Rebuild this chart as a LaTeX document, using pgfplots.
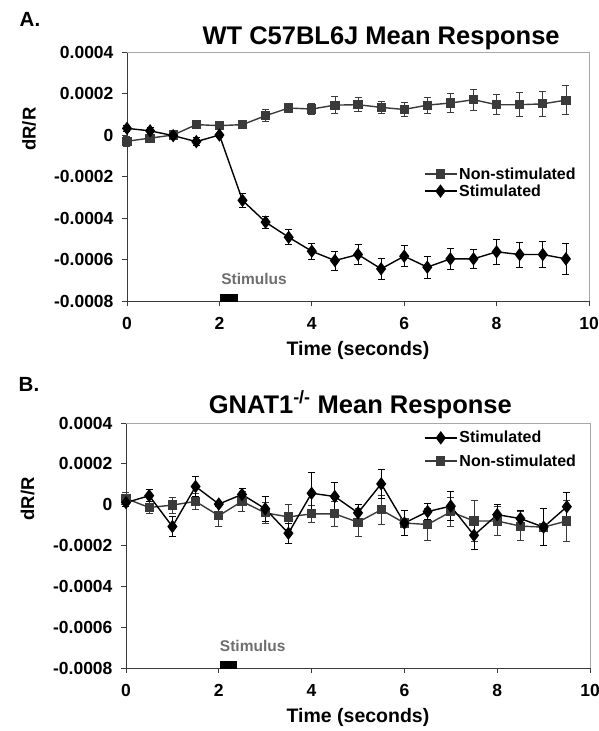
\documentclass[border=0pt]{standalone}
\usepackage{fontspec}
\setmainfont{Liberation Sans}
\usepackage{pgfplots}
\usepackage{pgfplotstable}
\pgfplotsset{compat=1.18}

\definecolor{nsgray}{HTML}{3A3A3A}
\definecolor{framegray}{HTML}{A8A8A8}
\definecolor{stimtext}{HTML}{6E6E6E}

% x = time (s), y = dR/R, e = error bar half length
\pgfplotstableread{
x y e
0 -0.00003 0.000025
0.5 -0.000015 0.00002
1.0 0.0 0.000015
1.5 0.00005 0.00002
2.0 0.000045 0.00002
2.5 0.00005 0.00002
3.0 0.000093 0.000028
3.5 0.00013 0.00002
4.0 0.000125 0.000028
4.5 0.000144 0.00004
5.0 0.000146 0.000033
5.5 0.000133 0.00003
6.0 0.000123 0.000033
6.5 0.000144 0.000038
7.0 0.000154 0.000046
7.5 0.00017 0.00005
8.0 0.000146 0.000048
8.5 0.000146 0.000058
9.0 0.00015 0.00006
9.5 0.000168 0.00007
}\wtnonstim
\pgfplotstableread{
x y e
0 0.000032 0.000015
0.5 0.00002 0.000015
1.0 -0.000003 0.000012
1.5 -0.000032 0.00002
2.0 0.0 0.00001
2.5 -0.000315 0.000032
3.0 -0.00042 0.00003
3.5 -0.000493 0.000036
4.0 -0.00056 0.00004
4.5 -0.000605 0.000046
5.0 -0.000576 0.00005
5.5 -0.000645 0.000052
6.0 -0.000584 0.00005
6.5 -0.000637 0.000054
7.0 -0.000597 0.000052
7.5 -0.000597 0.000048
8.0 -0.000563 0.00006
8.5 -0.000576 0.00006
9.0 -0.000576 0.000064
9.5 -0.000597 0.000075
}\wtstim
\pgfplotstableread{
x y e
0 0.00001 0.00002
0.5 0.000044 0.00003
1.0 -0.000107 0.00005
1.5 0.000089 0.00005
2.0 0.000003 0.00001
2.5 0.00005 0.00003
3.0 -0.00002 0.00006
3.5 -0.00014 0.00005
4.0 0.000056 0.0001
4.5 0.00004 0.00007
5.0 -0.00004 0.00004
5.5 0.000102 0.00007
6.0 -0.00009 0.00006
6.5 -0.000034 0.00004
7.0 -0.000007 0.00007
7.5 -0.00015 0.00007
8.0 -0.000049 0.00005
8.5 -0.000068 0.00004
9.0 -0.00011 0.00009
9.5 -0.00001 0.00007
}\kostim
\pgfplotstableread{
x y e
0 0.00003 0.00003
0.5 -0.000014 0.00003
1.0 -0.000002 0.00004
1.5 0.000016 0.00004
2.0 -0.000054 0.00005
2.5 0.000016 0.00005
3.0 -0.00004 0.00005
3.5 -0.00006 0.00006
4.0 -0.000045 0.00004
4.5 -0.000045 0.00006
5.0 -0.000086 0.00007
5.5 -0.000025 0.00007
6.0 -0.00009 0.00006
6.5 -0.000097 0.00008
7.0 -0.000035 0.00007
7.5 -0.00008 0.0001
8.0 -0.00008 0.00007
8.5 -0.000105 0.00007
9.0 -0.00011 0.00009
9.5 -0.00008 0.0001
}\kononstim

\pgfplotsset{
    resp axis/.style={
        scale only axis,
        xmin=0, xmax=10,
        ymin=-0.0008, ymax=0.0004,
        scaled y ticks=false,
        axis x line*=bottom,
        axis y line*=left,
        axis line style={draw=nsgray, line width=0.9pt, -},
        xtick={0,2,4,6,8,10},
        ytick={-0.0008,-0.0006,-0.0004,-0.0002,0,0.0002,0.0004},
        yticklabels={-0.0008,-0.0006,-0.0004,-0.0002,0,0.0002,0.0004},
        xticklabels={0,2,4,6,8,10},
        tick align=outside,
        major tick length=5pt,
        tick style={draw=nsgray, line width=0.9pt},
        tick label style={font=\bfseries\fontsize{17.5}{19}\selectfont},
        xticklabel style={yshift=-8pt},
        yticklabel style={xshift=-5pt},
        xlabel={Time (seconds)},
        xlabel style={font=\bfseries\fontsize{19.5}{21}\selectfont, yshift=-5pt},
        ylabel={dR/R},
        ylabel style={font=\bfseries\fontsize{18.5}{20}\selectfont,
            at={(rel axis cs:-0.212,0.69)}, anchor=center, rotate=0},
        title style={font=\bfseries\fontsize{25.5}{27}\selectfont, anchor=base},
        legend cell align=left,
        legend style={draw=none, fill=none, inner sep=0pt,
            font=\bfseries\fontsize{16}{18}\selectfont},
        legend image code/.code={
            \draw[mark repeat=2, mark phase=2, #1] plot coordinates {(0pt,0pt) (16pt,0pt) (32pt,0pt)};
        },
        clip=false,
    },
    nonstim/.style={
        color=nsgray, line width=1.4pt, mark=square*, mark size=3.9pt,
        mark options={solid, fill=nsgray},
        error bars/y dir=both, error bars/y explicit,
        error bars/error bar style={line width=0.8pt, color=nsgray},
        error bars/error mark options={rotate=90, mark size=3.5pt, line width=0.8pt, color=nsgray},
    },
    stim/.style={
        color=black, line width=1.4pt, mark=diamond*, mark size=5.6pt,
        mark options={solid, fill=black},
        error bars/y dir=both, error bars/y explicit,
        error bars/error bar style={line width=0.8pt, color=black},
        error bars/error mark options={rotate=90, mark size=3.5pt, line width=0.8pt, color=black},
    },
    nonstimleg/.style={color=nsgray, line width=1.4pt, mark=square*, mark size=3.9pt,
        mark options={solid, fill=nsgray}},
    stimleg/.style={color=black, line width=1.4pt, mark=diamond*, mark size=5.6pt,
        mark options={solid, fill=black}},
}

\begin{document}
\begin{tikzpicture}
\useasboundingbox (-127pt,-430pt) rectangle (472pt,301pt);

% panel A
\begin{axis}[
    resp axis,
    at={(0pt,0pt)}, anchor=south west,
    width=462pt, height=249pt,
    title={WT C57BL6J Mean Response},
    title style={at={(rel axis cs:0.55,1)}, yshift=1pt},
    legend style={at={(rel axis cs:0.642,0.545)}, anchor=north west, row sep=0pt},
]
\draw[framegray, line width=0.6pt] (rel axis cs:0,1) -- (rel axis cs:1,1) -- (rel axis cs:1,0);
\addlegendimage{nonstimleg}
\addlegendentry{Non-stimulated}
\addlegendimage{stimleg}
\addlegendentry{Stimulated}
\addplot[nonstim, forget plot] table[x=x, y=y, y error=e] {\wtnonstim};
\addplot[stim, forget plot] table[x=x, y=y, y error=e] {\wtstim};
\addplot[fill=black, draw=black, forget plot] coordinates {(2.02,-0.0008) (2.02,-0.000765) (2.38,-0.000765) (2.38,-0.0008)} -- cycle;
\node[text=stimtext, font=\bfseries\fontsize{15.5}{17}\selectfont] at (axis cs:2.75,-0.000694) {Stimulus};
\end{axis}
\node[font=\bfseries\fontsize{20.5}{22}\selectfont] at (-97pt,282pt) {A.};

% panel B
\begin{axis}[
    resp axis,
    at={(-1pt,-367pt)}, anchor=south west,
    width=464pt, height=245pt,
    title={GNAT1\textsuperscript{-/-} Mean Response},
    title style={at={(rel axis cs:0.505,1)}, yshift=4pt},
    legend style={at={(rel axis cs:0.642,0.975)}, anchor=north west, row sep=6pt},
]
\draw[framegray, line width=0.6pt] (rel axis cs:0,1) -- (rel axis cs:1,1) -- (rel axis cs:1,0);
\addlegendimage{stimleg}
\addlegendentry{Stimulated}
\addlegendimage{nonstimleg}
\addlegendentry{Non-stimulated}
\addplot[nonstim, forget plot] table[x=x, y=y, y error=e] {\kononstim};
\addplot[stim, forget plot] table[x=x, y=y, y error=e] {\kostim};
\addplot[fill=black, draw=black, forget plot] coordinates {(2.02,-0.0008) (2.02,-0.000765) (2.38,-0.000765) (2.38,-0.0008)} -- cycle;
\node[text=stimtext, font=\bfseries\fontsize{15.5}{17}\selectfont] at (axis cs:2.73,-0.000694) {Stimulus};
\end{axis}
\node[font=\bfseries\fontsize{20.5}{22}\selectfont] at (-98pt,-83pt) {B.};
\end{tikzpicture}
\end{document}
